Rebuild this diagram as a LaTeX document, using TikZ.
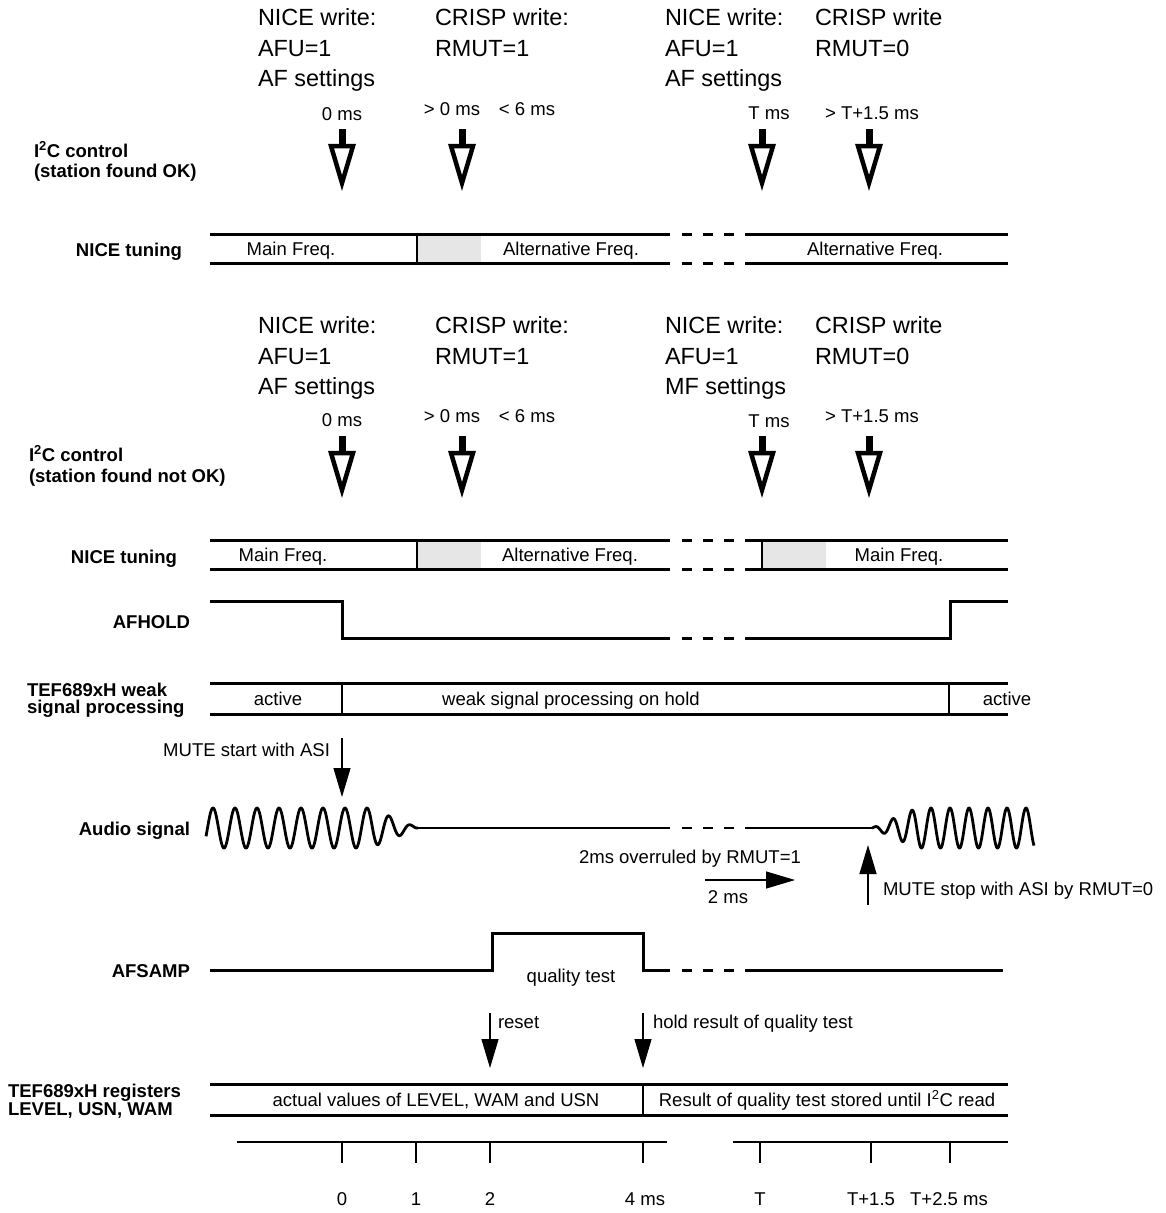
\documentclass[tikz,border=0pt]{standalone}
\usepackage{fontspec}
\setmainfont{Liberation Sans}
\usetikzlibrary{arrows.meta}
\definecolor{lightblock}{HTML}{E6E6E6}
\newcommand\tbreak[1]{\foreach \a in {682,703,724}{\draw[sig] (\a,#1) -- ++(10,0);}}
\newcommand\hollowarrow[3]{%
  \coordinate (#1) at (#2,#3);
  \draw[line width=7bp] (#1) -- ++(0,19);
  \draw[line width=4.5bp, fill=white, line join=miter] (#2-11,#3+17) -- (#2+11,#3+17) -- (#2,#3+54) -- cycle;
}
\begin{document}
\begin{tikzpicture}[x=1bp,y=-1bp,
  every node/.style={inner sep=0pt, outer sep=0pt},
  big/.style={font=\fontsize{23.5}{30.5}\selectfont, anchor=base west},
  sm/.style={font=\fontsize{18.6}{21}\selectfont, anchor=base},
  bl/.style={font=\fontsize{18.6}{21}\selectfont\bfseries},
  sig/.style={line width=3bp},
  divl/.style={line width=2.6bp},
  wave/.style={line width=2.8bp, line join=round},
  thinarrow/.style={line width=1.2bp, -{Triangle[length=29bp,width=17bp]}},
  axisl/.style={line width=1.3bp},
]
\fill[white] (0,0) rectangle (1166,1213);
\useasboundingbox (0,0) rectangle (1166,1213);

% ---------- top text, set 1 ----------
\node[big] (a1) at (258,25.5) {NICE write:};
\node[big] (a2) at (258,56) {AFU=1};
\node[big] (a3) at (258,86.5) {AF settings};
\node[big] (b1) at (435,25.5) {CRISP write:};
\node[big] (b2) at (435,56) {RMUT=1};
\node[big] (c1) at (665,25.5) {NICE write:};
\node[big] (c2) at (665,56) {AFU=1};
\node[big] (c3) at (665,86.5) {AF settings};
\node[big] (d1) at (815,25.5) {CRISP write};
\node[big] (d2) at (815,56) {RMUT=0};

\node[sm] (t10) at (342,120.5) {0 ms};
\node[sm] (t11) at (452,115.5) {> 0 ms};
\node[sm] (t12) at (527,115.5) {< 6 ms};
\node[sm] (t13) at (769,119.5) {T ms};
\node[sm] (t14) at (872,119.5) {> T+1.5 ms};

\hollowarrow{h11}{342}{129}
\hollowarrow{h12}{462}{129}
\hollowarrow{h13}{762}{129}
\hollowarrow{h14}{869}{129}

\node[bl, anchor=base west] (l1a) at (34,157) {I\textsuperscript{2}C control};
\node[bl, anchor=base west] (l1b) at (34,177) {(station found OK)};
\node[bl, anchor=base east] (l2) at (182,256) {NICE tuning};

% bar 1
\fill[lightblock] (417,234) rectangle (481,263);
\draw[sig] (210,234) -- (670,234) (745,234) -- (1008,234);
\draw[sig] (210,263) -- (670,263) (745,263) -- (1008,263);
\tbreak{234}\tbreak{263}
\draw[divl] (417,234) -- (417,263);
\node[sm] (f11) at (291,255) {Main Freq.};
\node[sm] (f12) at (571,255) {Alternative Freq.};
\node[sm] (f13) at (875,255) {Alternative Freq.};

% ---------- top text, set 2 ----------
\node[big] (e1) at (258,333.5) {NICE write:};
\node[big] (e2) at (258,364) {AFU=1};
\node[big] (e3) at (258,394.5) {AF settings};
\node[big] (g1) at (435,333.5) {CRISP write:};
\node[big] (g2) at (435,364) {RMUT=1};
\node[big] (k1) at (665,333.5) {NICE write:};
\node[big] (k2) at (665,364) {AFU=1};
\node[big] (k3) at (665,394.5) {MF settings};
\node[big] (m1) at (815,333.5) {CRISP write};
\node[big] (m2) at (815,364) {RMUT=0};

\node[sm] (t20) at (342,426.5) {0 ms};
\node[sm] (t21) at (452,422.5) {> 0 ms};
\node[sm] (t22) at (527,422.5) {< 6 ms};
\node[sm] (t23) at (769,427.5) {T ms};
\node[sm] (t24) at (872,422.5) {> T+1.5 ms};

\hollowarrow{h21}{342}{436}
\hollowarrow{h22}{462}{436}
\hollowarrow{h23}{762}{436}
\hollowarrow{h24}{869}{436}

\node[bl, anchor=base west] (l3a) at (29,461) {I\textsuperscript{2}C control};
\node[bl, anchor=base west] (l3b) at (29,482) {(station found not OK)};
\node[bl, anchor=base east] (l4) at (177,563) {NICE tuning};

% bar 2
\fill[lightblock] (417,540) rectangle (481,569);
\fill[lightblock] (762,540) rectangle (826,569);
\draw[sig] (210,540) -- (670,540) (745,540) -- (1008,540);
\draw[sig] (210,569) -- (670,569) (745,569) -- (1008,569);
\tbreak{540}\tbreak{569}
\draw[divl] (417,540) -- (417,569);
\draw[divl] (762,540) -- (762,569);
\node[sm] (f21) at (283,561) {Main Freq.};
\node[sm] (f22) at (570,561) {Alternative Freq.};
\node[sm] (f23) at (899,561) {Main Freq.};

% AFHOLD
\node[bl, anchor=base east] (l5) at (190,628) {AFHOLD};
\draw[sig] (210,601) -- (342,601) -- (342,638) -- (670,638);
\tbreak{638}
\draw[sig] (745,638) -- (950,638) -- (950,601) -- (1008,601);

% weak signal processing
\node[bl, anchor=base west] (l6a) at (27,696) {TEF689xH weak};
\node[bl, anchor=base west] (l6b) at (27,713) {signal processing};
\draw[sig] (210,683) -- (1008,683);
\draw[sig] (210,714) -- (1008,714);
\draw[divl] (342,683) -- (342,714);
\draw[divl] (949,683) -- (949,714);
\node[sm] (w1) at (278,705) {active};
\node[sm] (w2) at (571,705) {weak signal processing on hold};
\node[sm] (w3) at (1007,705) {active};

% MUTE start
\node[sm, anchor=base east] (ms) at (330,756) {MUTE start with ASI};
\coordinate (ms1) at (342,738);
\coordinate (ms2) at (342,797);
\draw[thinarrow] (ms1) -- (ms2);

% Audio signal
\node[bl, anchor=base east] (l7) at (190,835) {Audio signal};
\draw[wave] plot[domain=206:418, samples=500]
  (\x, {828 - 20*min(1,max(0,(418-\x)/48))*cos(((\x-213)/22)*360)});
\draw[wave] (418,828) -- (670,828);
\foreach \a in {682,703,724}{\draw[wave] (\a,828) -- ++(10,0);}
\draw[wave] (745,828) -- (872,828);
\draw[wave] plot[domain=872:1034, samples=500]
  (\x, {828 - 20*min(1,max(0,(\x-872)/45))*cos(((\x-912)/19)*360)});

% 2 ms annotation
\node[sm] (ov) at (690,863.5) {2ms overruled by RMUT=1};
\coordinate (q1) at (705,880);
\coordinate (q2) at (795,880);
\draw[thinarrow] (q1) -- (q2);
\node[sm] (q3) at (728,903.5) {2 ms};

% MUTE stop
\coordinate (st1) at (868,905);
\coordinate (st2) at (868,845);
\draw[thinarrow] (st1) -- (st2);
\node[sm, anchor=base west] (stt) at (883,895) {MUTE stop with ASI by RMUT=0};

% AFSAMP
\node[bl, anchor=base east] (l8) at (190,977) {AFSAMP};
\draw[sig] (210,970) -- (492,970) -- (492,933) -- (643,933) -- (643,970) -- (670,970);
\tbreak{970}
\draw[sig] (745,970) -- (1003,970);
\node[sm] (qt) at (571,982) {quality test};

% reset / hold
\coordinate (r1) at (490,1013);
\coordinate (r2) at (490,1068);
\draw[thinarrow] (r1) -- (r2);
\node[sm, anchor=base west] (rt) at (498,1028) {reset};
\coordinate (o1) at (643,1013);
\coordinate (o2) at (643,1068);
\draw[thinarrow] (o1) -- (o2);
\node[sm, anchor=base west] (ot) at (653,1028) {hold result of quality test};

% registers
\node[bl, anchor=base west] (l9a) at (8,1097) {TEF689xH registers};
\node[bl, anchor=base west] (l9b) at (8,1115) {LEVEL, USN, WAM};
\draw[sig] (210,1084) -- (1008,1084);
\draw[sig] (210,1115) -- (1008,1115);
\draw[divl] (643,1084) -- (643,1115);
\node[sm] (rg1) at (436,1106) {actual values of LEVEL, WAM and USN};
\node[sm] (rg2) at (827,1106) {Result of quality test stored until I\textsuperscript{2}C read};

% time axis
\draw[axisl] (237,1142) -- (667,1142);
\draw[axisl] (733,1142) -- (1008,1142);
\foreach \t in {342,416,490,643,760,871,950}{
  \draw[axisl] (\t,1142) -- (\t,1163);
}
\node[sm] (n0) at (342,1205) {0};
\node[sm] (n1) at (416,1205) {1};
\node[sm] (n2) at (490,1205) {2};
\node[sm] (n4) at (645,1205) {4 ms};
\node[sm] (nT) at (760,1205) {T};
\node[sm] (nT1) at (871,1205) {T+1.5};
\node[sm] (nT2) at (949,1205) {T+2.5 ms};
\end{tikzpicture}
\end{document}
